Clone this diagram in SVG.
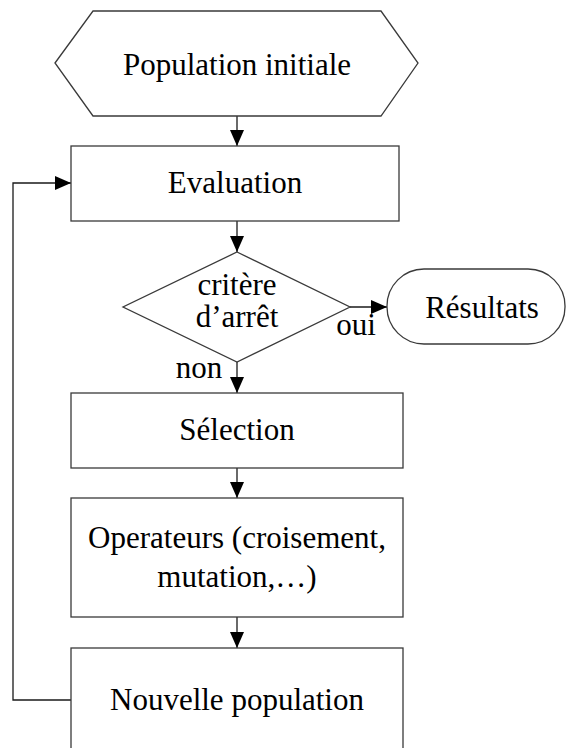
<svg xmlns="http://www.w3.org/2000/svg" width="566" height="748" viewBox="0 0 566 748">
  <style>
    .shape { fill: #ffffff; stroke: #3a3a3a; stroke-width: 1.3; }
    .label { font-family: "Liberation Serif", "Times New Roman", serif; font-size: 31px; fill: #000000; text-anchor: middle; }
    .edge { fill: none; stroke: #1a1a1a; stroke-width: 1.3; }
  </style>
  <defs>
    <marker id="arrow" markerUnits="userSpaceOnUse" markerWidth="16" markerHeight="14" refX="16" refY="7" orient="auto">
      <path d="M0,0 L16,7 L0,14 Z" fill="#000000"/>
    </marker>
  </defs>
  <rect width="566" height="748" fill="#ffffff"/>

  <g id="connectors">
    <line class="edge" x1="237" y1="116" x2="237" y2="146" marker-end="url(#arrow)"/>
    <line class="edge" x1="237" y1="221" x2="237" y2="252" marker-end="url(#arrow)"/>
    <line class="edge" x1="350" y1="307" x2="387" y2="307" marker-end="url(#arrow)"/>
    <line class="edge" x1="237" y1="362" x2="237" y2="393" marker-end="url(#arrow)"/>
    <line class="edge" x1="237" y1="468" x2="237" y2="498" marker-end="url(#arrow)"/>
    <line class="edge" x1="237" y1="617" x2="237" y2="648" marker-end="url(#arrow)"/>
    <polyline class="edge" points="71,700 13,700 13,183 71,183" marker-end="url(#arrow)"/>
    <text class="label" x="356" y="335">oui</text>
    <text class="label" x="199" y="378">non</text>
  </g>

  <g id="population-initiale">
    <polygon class="shape" points="55,63 93,11 381,11 418,63 381,116 93,116"/>
    <text class="label" x="237" y="75">Population initiale</text>
  </g>

  <g id="evaluation">
    <rect class="shape" x="71" y="146" width="328" height="75"/>
    <text class="label" x="235" y="193">Evaluation</text>
  </g>

  <g id="critere-arret">
    <polygon class="shape" points="237,252 350,307 237,362 123,307"/>
    <text class="label" x="237" y="295">critère</text>
    <text class="label" x="237" y="327">d’arrêt</text>
  </g>

  <g id="resultats">
    <rect class="shape" x="387" y="269" width="178" height="75" rx="37" ry="37"/>
    <text class="label" x="482" y="318">Résultats</text>
  </g>

  <g id="selection">
    <rect class="shape" x="71" y="393" width="332" height="75"/>
    <text class="label" x="237" y="440">Sélection</text>
  </g>

  <g id="operateurs">
    <rect class="shape" x="71" y="498" width="332" height="119"/>
    <text class="label" x="237" y="548">Operateurs (croisement,</text>
    <text class="label" x="237" y="587">mutation,…)</text>
  </g>

  <g id="nouvelle-population">
    <rect class="shape" x="71" y="648" width="332" height="112"/>
    <text class="label" x="237" y="710">Nouvelle population</text>
  </g>
</svg>
